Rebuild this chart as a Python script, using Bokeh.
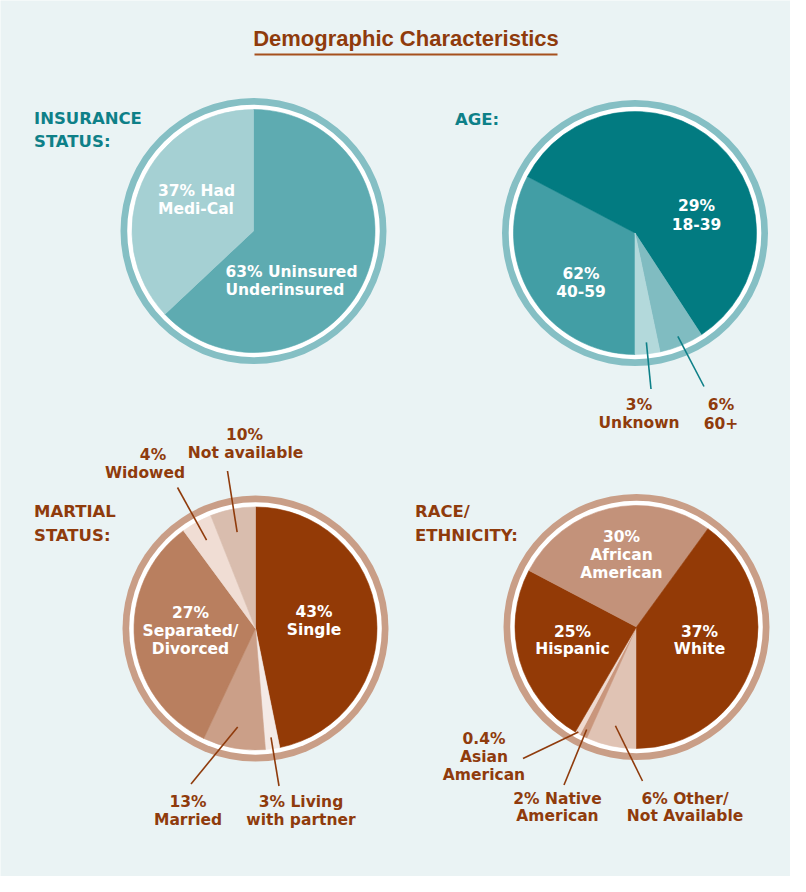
import numpy as np
from bokeh.plotting import figure
from bokeh.models import Range1d, ColumnDataSource
from bokeh.embed import file_html
from bokeh.resources import INLINE
from bokeh.core.properties import value

# ---------------- data ----------------
title = "Demographic Characteristics"

# Insurance status (clockwise from 12 o'clock)
ins_cats = ["Uninsured/Underinsured", "Had Medi-Cal"]
ins_vals = [63, 37]
ins_text = [["63% Uninsured", "Underinsured"], ["37% Had", "Medi-Cal"]]

# Age (clockwise from 6 o'clock) - slice shares as drawn in the picture
age_cats = ["40-59", "18-39", "60+", "Unknown"]
age_vals = [32.7, 58.1, 5.9, 3.3]
age_text = [["62%", "40-59"], ["29%", "18-39"], ["6%", "60+"], ["3%", "Unknown"]]

# Marital status (clockwise from 12 o'clock) - slice shares as drawn
mar_cats = ["Single", "Living with partner", "Married", "Separated/Divorced",
            "Widowed", "Not available"]
mar_vals = [46.8, 1.9, 8.3, 32.9, 4.1, 6.0]
mar_text = [["43%", "Single"], ["3% Living", "with partner"], ["13%", "Married"],
            ["27%", "Separated/", "Divorced"], ["4%", "Widowed"],
            ["10%", "Not available"]]

# Race / ethnicity (clockwise from 6 o'clock) - slice shares as drawn
race_cats = ["Other/Not Available", "Native American", "Asian American",
             "Hispanic", "African American", "White"]
race_vals = [6.7, 1.0, 0.7, 24.3, 27.3, 40.0]
race_text = [["6% Other/", "Not Available"], ["2% Native", "American"],
             ["0.4%", "Asian", "American"], ["25%", "Hispanic"],
             ["30%", "African", "American"], ["37%", "White"]]

# ---------------- style ----------------
W, H = 790, 876
BG = "#eaf3f4"
TEAL_TXT = "#0e8088"
BROWN_TXT = "#8f3b0c"
TEAL_RING = "#85bfc4"
BROWN_RING = "#c99e87"
FONT = "DejaVu Sans"

ins_colors = ["#5eabb1", "#a5d0d3"]
age_colors = ["#429ea5", "#027b81", "#80bcc1", "#b3d9db"]
mar_colors = ["#933a06", "#f4eae6", "#cb9f88", "#b97f5f", "#f0ddd4", "#d9bdae"]
race_colors = ["#e0c3b4", "#c9967c", "#efdad0", "#933a06", "#c3927a", "#933a06"]

R_RING, R_WHITE, R_PIE = 133, 126.3, 121.5

p = figure(width=W, height=H, x_range=Range1d(0, W), y_range=Range1d(0, H),
           x_axis_type=None, y_axis_type=None, toolbar_location=None,
           output_backend="svg", min_border=0)
p.background_fill_color = BG
p.border_fill_color = BG
p.outline_line_color = None
p.grid.visible = False


def X(sx):
    return sx - 8


def Y(sy):
    return 884 - sy


def text_lines(lines, xs, ys, color, align="center", size="15.5px"):
    if not isinstance(xs, (list, tuple)):
        xs = [xs] * len(lines)
    src = ColumnDataSource(dict(x=[X(v) for v in xs], y=[Y(v) for v in ys], t=lines))
    p.text(x="x", y="y", text="t", source=src, text_color=color,
           text_font=value(FONT), text_font_style="bold", text_font_size=size,
           text_align=align, text_baseline="middle")


def pie(cx, cy, vals, colors, start_deg, ring):
    vals = np.asarray(vals, float)
    frac = vals / vals.sum()
    cum = np.concatenate([[0.0], np.cumsum(frac)])
    a0 = np.radians(start_deg)
    ends = a0 - cum[:-1] * 2 * np.pi
    starts = a0 - cum[1:] * 2 * np.pi
    p.circle(x=[X(cx)], y=[Y(cy)], radius=R_RING, fill_color=ring, line_color=None)
    p.circle(x=[X(cx)], y=[Y(cy)], radius=R_WHITE, fill_color="white", line_color=None)
    src = ColumnDataSource(dict(x=[X(cx)] * len(vals), y=[Y(cy)] * len(vals),
                                s=starts, e=ends, c=colors))
    p.wedge(x="x", y="y", radius=R_PIE, start_angle="s", end_angle="e",
            fill_color="c", line_color="c", line_width=0.6, source=src)
    return (starts + ends) / 2  # mid angles


def leader(cx, cy, ang, r, ox, oy, color):
    ix = X(cx) + r * np.cos(ang)
    iy = Y(cy) + r * np.sin(ang)
    p.segment(x0=[ix], y0=[iy], x1=[X(ox)], y1=[Y(oy)], line_color=color, line_width=1.6)


# ---------------- title ----------------
text_lines([title], 413.5, [46], BROWN_TXT, size="22px")
p.renderers[-1].glyph.text_font = value("Liberation Sans")
p.segment(x0=[X(262)], y0=[Y(62)], x1=[X(565)], y1=[Y(62)], line_color="#a5501d", line_width=2)

# ---------------- insurance ----------------
cx, cy = 261, 238.5
pie(cx, cy, ins_vals, ins_colors, 90, TEAL_RING)
text_lines(["INSURANCE", "STATUS:"], 41.5, [125.5, 149], TEAL_TXT, "left", "16.5px")
text_lines(ins_text[0], 233, [279.5, 297.5], "white", "left")
text_lines(ins_text[1], 165.5, [198.5, 216.5], "white", "left")

# ---------------- age ----------------
cx, cy = 642.5, 240.5
mids = pie(cx, cy, age_vals, age_colors, 270, TEAL_RING)
text_lines(["AGE:"], 462.5, [126.5], TEAL_TXT, "left", "16.5px")
text_lines(age_text[0], 588.5, [281, 298.5], "white")
text_lines(age_text[1], 704, [213.5, 231], "white")
text_lines(age_text[2], 728.5, [412.5, 430], BROWN_TXT)
text_lines(age_text[3], 646.5, [412.5, 430], BROWN_TXT)
leader(cx, cy, mids[2], 112, 711.5, 394, TEAL_TXT)
leader(cx, cy, mids[3], 110, 658.5, 396.5, TEAL_TXT)

# ---------------- marital ----------------
cx, cy = 263, 636
mids = pie(cx, cy, mar_vals, mar_colors, 90, BROWN_RING)
text_lines(["MARTIAL", "STATUS:"], 41.5, [519, 542.5], BROWN_TXT, "left", "16.5px")
text_lines(mar_text[0], 321.5, [619.5, 637.5], "white")
text_lines(mar_text[3], 198, [620, 638, 656], "white")
text_lines(mar_text[1], 308.5, [809.5, 827], BROWN_TXT)
text_lines(mar_text[2], 195.5, [809.5, 827], BROWN_TXT)
text_lines(mar_text[4], [160.5, 152.5], [462.5, 480], BROWN_TXT)
text_lines(mar_text[5], [252, 253], [442.5, 460], BROWN_TXT)
leader(cx, cy, mids[1], 110, 286.5, 793.5, BROWN_TXT)
leader(cx, cy, mids[2], 100, 198.5, 791.5, BROWN_TXT)
leader(cx, cy, mids[4], 101, 185, 495, BROWN_TXT)
leader(cx, cy, mids[5], 98, 235, 478.5, BROWN_TXT)

# ---------------- race ----------------
cx, cy = 644, 634.5
mids = pie(cx, cy, race_vals, race_colors, 270, BROWN_RING)
text_lines(["RACE/", "ETHNICITY:"], 422.5, [519, 542.5], BROWN_TXT, "left", "16.5px")
text_lines(race_text[5], 707, [639, 656.5], "white")
text_lines(race_text[3], 580, [639, 656.5], "white")
text_lines(race_text[4], 629, [544.5, 562.5, 580], "white")
text_lines(race_text[2], 491.5, [746.5, 764.5, 782.5], BROWN_TXT)
text_lines(race_text[1], 565, [806, 823.5], BROWN_TXT)
text_lines(race_text[0], 692.5, [806, 823.5], BROWN_TXT)
leader(cx, cy, mids[2], 120, 530.5, 766, BROWN_TXT)
leader(cx, cy, mids[1], 114, 571.5, 792.5, BROWN_TXT)
leader(cx, cy, mids[0], 101, 650, 788.5, BROWN_TXT)

open("out.html", "w").write(file_html(p, INLINE))
